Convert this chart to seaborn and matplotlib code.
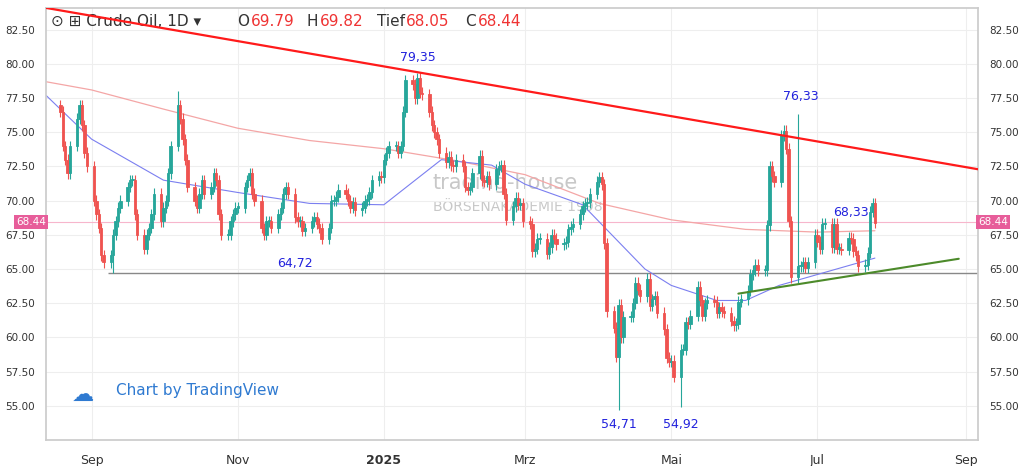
import numpy as np
import pandas as pd
import matplotlib
matplotlib.use("Agg")
import matplotlib.pyplot as plt
import matplotlib.dates as mdates
import seaborn as sns

closes = [76.5, 74, 73, 72, 74, 76, 77, 75.5, 73.5, 72.5,
 70, 69, 68, 66, 65.5, 66, 67.5, 68.5, 69.5, 70, 71, 71.5, 71.5, 69, 67.5, 66.5, 67.5, 68, 69, 70.5, 68.5,
 69.5, 70, 72, 74, 77, 76, 74.5, 73, 71, 70, 69.5, 70.5, 71.5, 70.5, 71, 72, 71.5, 69, 67.5, 67.5, 68.5, 69, 69.5,
 69.5, 71, 71.5, 72, 70.5, 70, 68, 67.5, 68.5, 68.5, 68, 69, 69.5, 70.5, 71, 70.5, 68.8, 68.5, 68.5, 67.8, 68,
 68.5, 68.8, 68.3, 68, 67.2, 68, 70, 70, 70.3, 70.8, 70.5, 70, 69.5, 69.9, 69.3, 69.5, 70, 70.1, 70.6, 71.5, 71.8, 71.7,
 73, 73.5, 74, 74, 73.5, 74, 76.5, 78.8, 78.5, 77.5, 79, 77.9, 77.8, 76.5, 75.5, 75, 74.5, 73.5, 72.8, 73.2, 72.6, 72.5,
 73, 72.5, 71, 70.8, 71, 72, 73.3, 71.5, 71.4, 71.8, 71.2, 72.3, 72.5, 72.6, 70.5, 68.6, 69.6, 70.2, 69.7, 69.8,
 68.5, 68.3, 66.3, 66.5, 67.2, 67.2, 66.1, 66.6, 67.5, 67.2, 66.8, 66.9, 67, 67.9, 68.1, 68.3, 69, 69.6, 69.8, 69.9, 70.5,
 71.4, 71.7, 71.2, 66.9, 61.9, 60.7, 58.6, 62.4, 60, 61.5, 61.5, 62.5, 64, 63.5, 63, 64.3, 62.3, 62.8, 63, 61.8, 60.6, 58.5,
 58.2, 58.3, 57.1, 59.1, 59.1, 61.1, 61, 61.6, 63.7, 62.7, 61.6, 62.5, 62.7, 62.6, 61.8, 62.2, 61.9, 61.8, 61.2, 60.9, 61,
 62.6, 62.8, 63.4, 64.6, 64.9, 65.3, 64.9, 64.9, 68.2, 72.5, 71.8, 71.4, 74.8, 75.1, 73.8, 68.5, 64.4, 65.2, 65.2, 65.5, 65.1,
 65.5, 67.5, 67, 66.5, 68.3, 68.3, 66.6, 68.3, 66.5, 66.5, 66.4, 67.3, 67.2, 66.3, 66, 65.2, 65.3, 66.2, 69.2, 69.8, 68.4]
extreme_highs = {"2025-01-15": 79.35, "2025-06-23": 76.33, "2024-10-07": 78.0}
extreme_lows = {"2025-04-09": 54.71, "2025-05-05": 54.92, "2024-09-10": 64.72}

ma200_dates = ["2024-08-13","2024-09-01","2024-10-01","2024-11-01","2024-12-01","2025-01-01","2025-02-01","2025-03-01","2025-04-01","2025-05-01","2025-06-01","2025-07-01","2025-07-25"]
ma200_vals = [78.7, 78.1, 76.7, 75.3, 74.4, 73.8, 72.9, 71.9, 69.8, 68.6, 67.9, 67.7, 67.8]
ma50_dates = ["2024-08-13","2024-09-01","2024-10-01","2024-11-01","2024-12-01","2025-01-01","2025-01-25","2025-02-15","2025-03-01","2025-03-25","2025-04-20","2025-05-01","2025-05-20","2025-06-01","2025-06-15","2025-07-01","2025-07-25"]
ma50_vals = [77.7, 74.5, 71.5, 70.6, 69.8, 69.7, 73.0, 72.6, 71.2, 69.7, 65.0, 63.8, 62.7, 62.7, 63.8, 64.6, 65.8]

red_line = (["2024-08-13", "2025-09-06"], [84.1, 72.3])
green_line = (["2025-05-29", "2025-08-29"], [63.2, 65.75])
support = ("2024-09-08", 64.72)
last_close = 68.44
annotations = [("2025-01-15", 80.5, "79,35"), ("2025-06-24", 77.6, "76,33"), ("2025-07-15", 69.1, "68,33"),
               ("2024-11-25", 65.4, "64,72"), ("2025-04-09", 53.6, "54,71"), ("2025-05-05", 53.6, "54,92")]
xticks = ["2024-09-01","2024-11-01","2025-01-01","2025-03-01","2025-05-01","2025-07-01","2025-09-01"]
xlabels = ["Sep", "Nov", "2025", "Mrz", "Mai", "Jul", "Sep"]

dates = pd.bdate_range("2024-08-19", periods=len(closes))
df = pd.DataFrame({"date": dates, "close": closes})
df["open"] = df["close"].shift(1).fillna(df["close"].iloc[0] + 0.5)
df["high"] = df[["open", "close"]].max(axis=1) + 0.4
df["low"] = df[["open", "close"]].min(axis=1) - 0.4
for d, v in extreme_highs.items():
    i = df.index[df.date == pd.Timestamp(d)]
    df.loc[i, "high"] = v
for d, v in extreme_lows.items():
    i = df.index[df.date == pd.Timestamp(d)]
    df.loc[i, "low"] = v

sns.set_theme(style="white")
fig = plt.figure(figsize=(10.24, 4.66), dpi=100)
ax = fig.add_axes([0.045, 0.056, 0.91, 0.927])
up, dn = "#26a69a", "#ef5350"
x = mdates.date2num(df.date)
cols = np.where(df.close >= df.open, up, dn)
ax.vlines(x, df.low, df.high, colors=cols, lw=0.8, zorder=3)
ax.bar(x, (df.close - df.open).abs().clip(lower=0.08), bottom=df[["open", "close"]].min(axis=1),
       width=1.0, color=cols, zorder=4, linewidth=0.6, edgecolor=cols)

sns.lineplot(x=pd.to_datetime(ma200_dates), y=ma200_vals, ax=ax, color="#f4a6a6", lw=0.9, zorder=2)
sns.lineplot(x=pd.to_datetime(ma50_dates), y=ma50_vals, ax=ax, color="#7b7ff0", lw=0.8, zorder=2)
ax.plot(pd.to_datetime(red_line[0]), red_line[1], color="#ff1a1a", lw=1.6, zorder=5)
ax.plot(pd.to_datetime(green_line[0]), green_line[1], color="#4c8a2a", lw=1.5, zorder=5)
ax.hlines(support[1], pd.Timestamp(support[0]), pd.Timestamp("2025-09-10"), color="#888888", lw=1, zorder=1)
ax.axhline(last_close, color="#f7b6cc", lw=0.8, zorder=1)
for d, y, t in annotations:
    ax.text(pd.Timestamp(d), y, t, color="#2222dd", fontsize=9, ha="center", va="center", zorder=6)

ax.set_xlim(pd.Timestamp("2024-08-13"), pd.Timestamp("2025-09-06"))
ax.set_ylim(52.5, 84.1)
yt = np.arange(55, 83, 2.5)
ax.set_yticks(yt)
ax.set_yticklabels([f"{v:.2f}" for v in yt], fontsize=7.5, color="#333333")
ax.tick_params(axis="y", labelleft=True, labelright=True, left=False, right=False, pad=2)
ax.tick_params(axis="x", bottom=False, pad=4)
ax.set_xticks(pd.to_datetime(xticks))
ax.set_xticklabels(xlabels, fontsize=9, color="#333333")
ax.get_xticklabels()[2].set_fontweight("bold")
ax.grid(True, color="#eeeeee", lw=0.8)
for s in ax.spines.values():
    s.set_color("#cccccc")
ax.set_xlabel(""); ax.set_ylabel("")

for xp, ha in [(0.0, "right"), (1.0, "left")]:
    ax.text(xp, last_close, "68.44", transform=ax.get_yaxis_transform(), ha=ha, va="center",
            fontsize=7.5, color="white", bbox=dict(boxstyle="square,pad=0.2", fc="#e75d9a", ec="none"), zorder=7)

ax.text(0.005, 0.985, "⊙ ⊞ Crude Oil, 1D ▾", transform=ax.transAxes, fontsize=11, va="top", color="#333333")
hdr = [("O", "69.79", 0.205), ("H", "69.82", 0.28), ("Tief", "68.05", 0.355), ("C", "68.44", 0.45)]
for k, v, xp in hdr:
    t = ax.text(xp, 0.985, k, transform=ax.transAxes, fontsize=11, va="top", color="#333333")
    ax.annotate(v, xy=(1, 0), xycoords=t, xytext=(1, 0), textcoords="offset points",
                fontsize=11, va="bottom", color="#ef3333")
ax.text(0.415, 0.58, "trading-house", transform=ax.transAxes, fontsize=15, color="#c8c8c8", zorder=0)
ax.text(0.415, 0.53, "BÖRSENAKADEMIE 1998", transform=ax.transAxes, fontsize=10, color="#c8c8c8", zorder=0)
ax.text(0.075, 0.105, "Chart by TradingView", transform=ax.transAxes, fontsize=11, color="#2f7ad1")
ax.text(0.028, 0.105, "☁", transform=ax.transAxes, fontsize=16, color="#2f7ad1", va="center",
        fontfamily="DejaVu Sans")
fig.savefig("out.png", dpi=100)
